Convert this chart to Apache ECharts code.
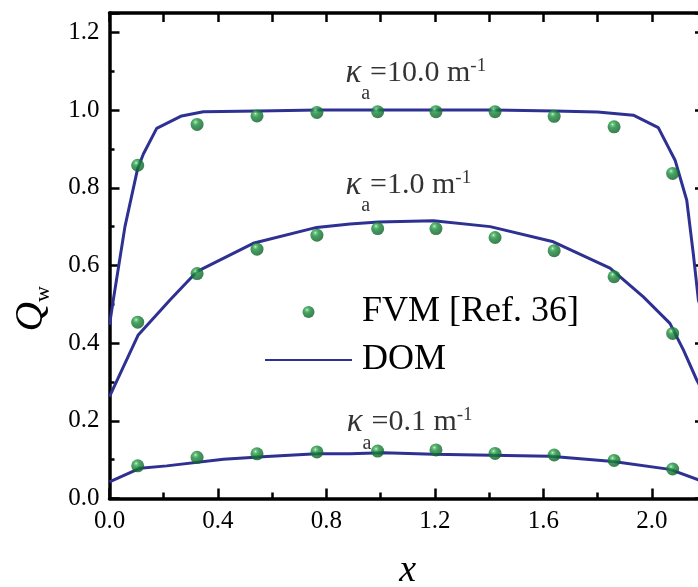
<!DOCTYPE html>
<html>
<head>
<meta charset="utf-8">
<script src="https://cdn.jsdelivr.net/npm/echarts@6/dist/echarts.min.js"></script>
<style>
html,body{margin:0;padding:0;background:#fff;}
#c{width:698px;height:587px;}
</style>
</head>
<body>
<div id="c"></div>
<script>
// ---- data ----
var xTickLabels = ['0.0','0.4','0.8','1.2','1.6','2.0'];
var yTickLabels = ['0.0','0.2','0.4','0.6','0.8','1.0','1.2'];

var fvmX   = [0.104, 0.323, 0.544, 0.765, 0.989, 1.204, 1.422, 1.640, 1.861, 2.077];
var fvm10  = [0.858, 0.963, 0.985, 0.994, 0.996, 0.996, 0.996, 0.984, 0.957, 0.837];
var fvm1   = [0.454, 0.579, 0.642, 0.678, 0.695, 0.695, 0.672, 0.638, 0.571, 0.425];
var fvm01  = [0.084, 0.106, 0.115, 0.120, 0.122, 0.125, 0.116, 0.112, 0.098, 0.076];

var dom10X = [0, 0.014, 0.057, 0.104, 0.125, 0.174, 0.266, 0.346, 0.55, 0.77, 1.0, 1.2, 1.42, 1.64, 1.80, 1.932, 2.024, 2.086, 2.129, 2.153, 2.172, 2.2];
var dom10Y = [0.447, 0.511, 0.70, 0.85, 0.887, 0.953, 0.985, 0.996, 0.998, 1.0, 1.0, 1.0, 1.0, 0.998, 0.995, 0.987, 0.955, 0.871, 0.768, 0.631, 0.511, 0.447];

var dom1X = [0, 0.106, 0.223, 0.322, 0.53, 0.764, 0.887, 0.992, 1.195, 1.404, 1.637, 1.846, 1.969, 2.067, 2.117, 2.166, 2.2];
var dom1Y = [0.262, 0.421, 0.511, 0.584, 0.657, 0.698, 0.707, 0.712, 0.715, 0.700, 0.661, 0.593, 0.519, 0.451, 0.382, 0.305, 0.26];

var dom01X = [0, 0.113, 0.211, 0.42, 0.58, 0.764, 0.887, 1.01, 1.195, 1.625, 1.858, 2.067, 2.172, 2.2];
var dom01Y = [0.043, 0.078, 0.084, 0.101, 0.108, 0.115, 0.115, 0.118, 0.114, 0.109, 0.095, 0.075, 0.048, 0.043];

var annoX = [0.87, 0.87, 0.875];
var annoY = [1.095, 0.807, 0.196];
var annoText = ['10.0', '1.0', '0.1'];

var seriesNames = ['FVM [Ref. 36]', 'DOM'];
var xAxisTitle = 'x';
var yAxisTitle = 'Q';
var yAxisSub = 'w';

// ---- build ----
function zip(xs, ys){ return xs.map(function(x,i){ return [x, ys[i]]; }); }

var FONT = "'Liberation Serif','Times New Roman',serif";
var BLUE = '#2e3192';
var TXT = '#000';
var sphere = new echarts.graphic.RadialGradient(0.38, 0.32, 0.72, [
  {offset:0, color:'#d6f5d6'},
  {offset:0.14, color:'#4fb864'},
  {offset:0.38, color:'#17893a'},
  {offset:1, color:'#0a5a22'}
]);

function fvmSeries(ys){
  return {
    name: seriesNames[0], type:'scatter', data: zip(fvmX, ys),
    symbol:'circle', symbolSize: 13,
    itemStyle:{color: sphere}, z: 3
  };
}
function domSeries(xs, ys){
  return {
    name: seriesNames[1], type:'line', data: zip(xs, ys),
    symbol:'none', showSymbol:false, smooth:false,
    lineStyle:{color: BLUE, width: 3}, itemStyle:{color: BLUE}, z: 2
  };
}

var axisLineStyle = {color:'#000', width:3.5};
var chart = echarts.init(document.getElementById('c'), null, {renderer:'canvas'});
var option = {
  animation:false,
  backgroundColor:'#fff',
  grid:{left:109.5, top:13, width:596.5, height:485.5, containLabel:false, outerBoundsMode:'none'},
  legend:{
    orient:'vertical', left:259, top:287,
    itemWidth:87, itemHeight:12, itemGap:8,
    textStyle:{fontSize:36, fontFamily:FONT, color:TXT, lineHeight:40, padding:[0,0,0,5]},
    data: [
      {name: seriesNames[0]},
      {name: seriesNames[1], itemStyle:{opacity:0}}
    ]
  },
  xAxis:[{
    type:'value', min:0, max:2.2, interval:0.4, position:'bottom',
    axisLine:{show:true, onZero:false, lineStyle:axisLineStyle},
    axisTick:{show:true, inside:true, length:10, lineStyle:{color:'#000', width:2.5}},
    minorTick:{show:true, splitNumber:2, length:6, lineStyle:{color:'#000', width:2.5}},
    splitLine:{show:false},
    axisLabel:{fontSize:25, fontFamily:FONT, color:TXT, margin:10, showMaxLabel:false,
      formatter:function(v){ var i = Math.round(v/0.4); return Math.abs(v - i*0.4) < 1e-6 ? xTickLabels[i] : ''; }},
    name:xAxisTitle, nameLocation:'middle', nameGap:54,
    nameTextStyle:{fontSize:38, fontStyle:'italic', fontFamily:FONT, color:TXT}
  },{
    type:'value', min:0, max:2.2, interval:0.2, position:'top',
    axisLine:{show:true, onZero:false, lineStyle:axisLineStyle},
    axisTick:{show:true, inside:true, length:9, lineStyle:{color:'#000', width:2.5}},
    axisLabel:{show:false}, splitLine:{show:false}
  }],
  yAxis:[{
    type:'value', min:0, max:1.25, interval:0.2, position:'left',
    axisLine:{show:true, onZero:false, lineStyle:axisLineStyle},
    axisTick:{show:true, inside:true, length:10, lineStyle:{color:'#000', width:2.5}},
    minorTick:{show:true, splitNumber:2, length:5, lineStyle:{color:'#000', width:2.5}},
    splitLine:{show:false},
    axisLabel:{fontSize:25, fontFamily:FONT, color:TXT, margin:10, showMaxLabel:false,
      formatter:function(v){ var i = Math.round(v/0.2); return Math.abs(v - i*0.2) < 1e-6 ? yTickLabels[i] : ''; }},
    name:'{q|' + yAxisTitle + '}{w|' + yAxisSub + '}', nameLocation:'middle', nameGap:55, nameRotate:90,
    nameTextStyle:{
      padding:[0,106,0,0],
      rich:{
        q:{fontSize:41, fontStyle:'italic', fontFamily:FONT, color:TXT, lineHeight:46},
        w:{fontSize:22, fontFamily:FONT, color:TXT, lineHeight:22, verticalAlign:'bottom'}
      }
    }
  },{
    type:'value', min:0, max:1.25, interval:0.2, position:'right',
    axisLine:{show:true, onZero:false, lineStyle:axisLineStyle},
    axisTick:{show:true, inside:true, length:11, lineStyle:{color:'#000', width:2.5}},
    axisLabel:{show:false}, splitLine:{show:false}
  }],
  series:[
    domSeries(dom10X, dom10Y),
    domSeries(dom1X, dom1Y),
    domSeries(dom01X, dom01Y),
    fvmSeries(fvm10),
    fvmSeries(fvm1),
    fvmSeries(fvm01),
    {
      name:'annotations', type:'scatter', symbolSize:0, silent:true, z:5,
      data: zip(annoX, annoY),
      label:{
        show:true, position:[0,0], align:'left', verticalAlign:'middle',
        formatter:function(p){ return '{k|κ}{a|a}{n|=' + annoText[p.dataIndex] + ' m}{s|-1}'; },
        rich:{
          k:{fontSize:33, fontStyle:'italic', fontFamily:FONT, color:TXT, lineHeight:62},
          a:{fontSize:20, fontFamily:FONT, color:TXT, lineHeight:20, verticalAlign:'bottom'},
          n:{fontSize:30, fontFamily:FONT, color:TXT, lineHeight:62},
          s:{fontSize:19, fontFamily:FONT, color:TXT, verticalAlign:'top', padding:[14,0,0,0]}
        }
      }
    }
  ]
};
chart.setOption(option);
</script>
</body>
</html>
